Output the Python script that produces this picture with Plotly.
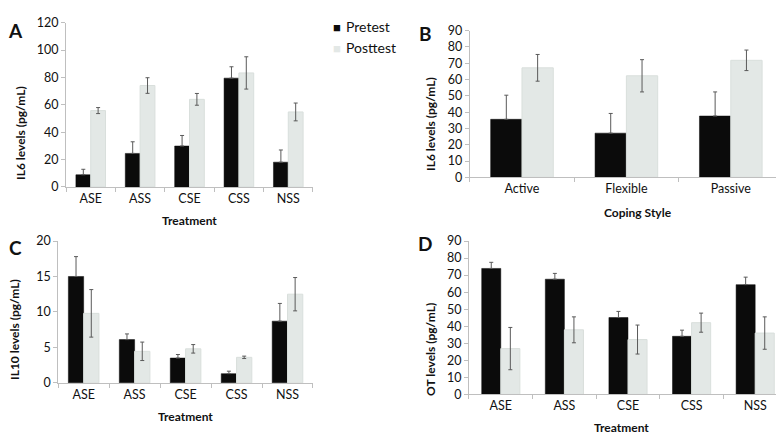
import plotly.graph_objects as go

treat = ["ASE", "ASS", "CSE", "CSS", "NSS"]
coping = ["Active", "Flexible", "Passive"]
series_names = ["Pretest", "Posttest"]

# Panel A: IL6 by treatment
a_pre = [8.9, 24.5, 29.9, 79.5, 18.1]
a_pre_err = [4.0, 8.5, 7.7, 8.3, 8.9]
a_post = [55.8, 74.1, 64.0, 83.3, 54.8]
a_post_err = [2.2, 5.7, 4.3, 11.8, 6.5]

# Panel B: IL6 by coping style
b_pre = [35.6, 27.1, 37.6]
b_pre_err = [14.8, 12.1, 14.8]
b_post = [67.2, 62.3, 71.8]
b_post_err = [8.2, 9.9, 6.3]

# Panel C: IL10 by treatment
c_pre = [15.0, 6.1, 3.5, 1.3, 8.7]
c_pre_err = [2.8, 0.8, 0.5, 0.35, 2.5]
c_post = [9.8, 4.45, 4.8, 3.6, 12.5]
c_post_err = [3.35, 1.3, 0.6, 0.17, 2.35]

# Panel D: OT by treatment
d_pre = [73.9, 67.6, 45.1, 34.1, 64.4]
d_pre_err = [3.6, 3.4, 3.6, 3.6, 4.4]
d_post = [26.9, 37.9, 32.2, 42.1, 36.0]
d_post_err = [12.4, 7.6, 8.5, 5.6, 9.5]

PRE_C = "#0b0b0b"
POST_C = "#e3e8e6"
ERR_C = "#5a5a5a"
FONT = "Lato, 'Open Sans', sans-serif"

fig = go.Figure()

panels = [
    ("", treat, a_pre, a_pre_err, a_post, a_post_err),
    ("2", coping, b_pre, b_pre_err, b_post, b_post_err),
    ("3", treat, c_pre, c_pre_err, c_post, c_post_err),
    ("4", treat, d_pre, d_pre_err, d_post, d_post_err),
]

for sfx, cats, pre, pre_e, post, post_e in panels:
    fig.add_trace(go.Bar(
        x=cats, y=pre, name=series_names[0], showlegend=False,
        marker=dict(color=PRE_C, line=dict(color=PRE_C, width=0.5)),
        error_y=dict(type="data", array=pre_e, arrayminus=[0] * len(pre_e),
                     symmetric=False, color=ERR_C, thickness=1, width=2),
        xaxis="x" + sfx, yaxis="y" + sfx,
    ))
    fig.add_trace(go.Bar(
        x=cats, y=post, name=series_names[1], showlegend=False,
        marker=dict(color=POST_C, line=dict(color="#d9dfdc", width=1)),
        error_y=dict(type="data", array=post_e, color=ERR_C, thickness=1, width=2),
        xaxis="x" + sfx, yaxis="y" + sfx,
    ))

axis_common = dict(showline=True, linecolor="#bfbfbf", linewidth=1,
                   showgrid=False, zeroline=False,
                   tickfont=dict(family=FONT, size=12.5, color="#111"),
                   ticks="outside", ticklen=4, tickcolor="#bfbfbf")

def xax(domain, anchor):
    return dict(axis_common, domain=domain, anchor=anchor, tickson="boundaries")

def yax(domain, anchor, rng, dt):
    return dict(axis_common, domain=domain, anchor=anchor, range=rng, dtick=dt)

fig.update_layout(
    width=784, height=434,
    margin=dict(l=0, r=0, t=0, b=0),
    paper_bgcolor="white", plot_bgcolor="white",
    barmode="group", bargap=0.4, bargroupgap=0.0,
    font=dict(family=FONT, color="#111"),
    showlegend=False,
    xaxis=xax([0.074, 0.389], "y"),
    yaxis=yax([0.592, 0.984], "x", [0, 120], 20),
    xaxis2=xax([0.589, 0.9885], "y2"),
    yaxis2=yax([0.615, 0.965], "x2", [0, 90], 10),
    xaxis3=xax([0.064, 0.389], "y3"),
    yaxis3=yax([0.1244, 0.463], "x3", [0, 20], 5),
    xaxis4=xax([0.588, 0.9936], "y4"),
    yaxis4=yax([0.0968, 0.463], "x4", [0, 90], 10),
)

ann = []
def txt(x, y, s, size=12, bold=True, angle=0, xa="center", ya="middle", color="#111"):
    ann.append(dict(x=x, y=y, xref="paper", yref="paper", text=("<b>%s</b>" % s) if bold else s,
                    showarrow=False, textangle=angle, xanchor=xa, yanchor=ya,
                    font=dict(family=FONT, size=size, color=color)))

# panel letters
txt(0.0102, 0.965, "A", size=19)
txt(0.532, 0.959, "B", size=19)
txt(0.0102, 0.447, "C", size=19)
txt(0.532, 0.458, "D", size=19)
# x titles
txt(0.232, 0.5115, "Treatment")
txt(0.804, 0.532, "Coping Style")
txt(0.226, 0.044, "Treatment")
txt(0.782, 0.0184, "Treatment")
# y titles
txt(0.0166, 0.721, "IL6 levels (pg/mL)", angle=-90)
txt(0.538, 0.742, "IL6 levels (pg/mL)", angle=-90)
txt(0.009, 0.251, "IL10 levels (pg/mL)", angle=-90)
txt(0.538, 0.205, "OT levels (pg/mL)", angle=-90)

# legend (square glyph + label)
txt(329 / 784, 1 - 11 / 434, "■", size=13, bold=False, color=PRE_C)
txt(336 / 784, 1 - 11 / 434, series_names[0], size=14, bold=False, xa="left")
txt(329 / 784, 1 - 33 / 434, "■", size=13, bold=False, color=POST_C)
txt(336 / 784, 1 - 33 / 434, series_names[1], size=14, bold=False, xa="left")

fig.update_layout(annotations=ann)

fig.write_html("out.html")
